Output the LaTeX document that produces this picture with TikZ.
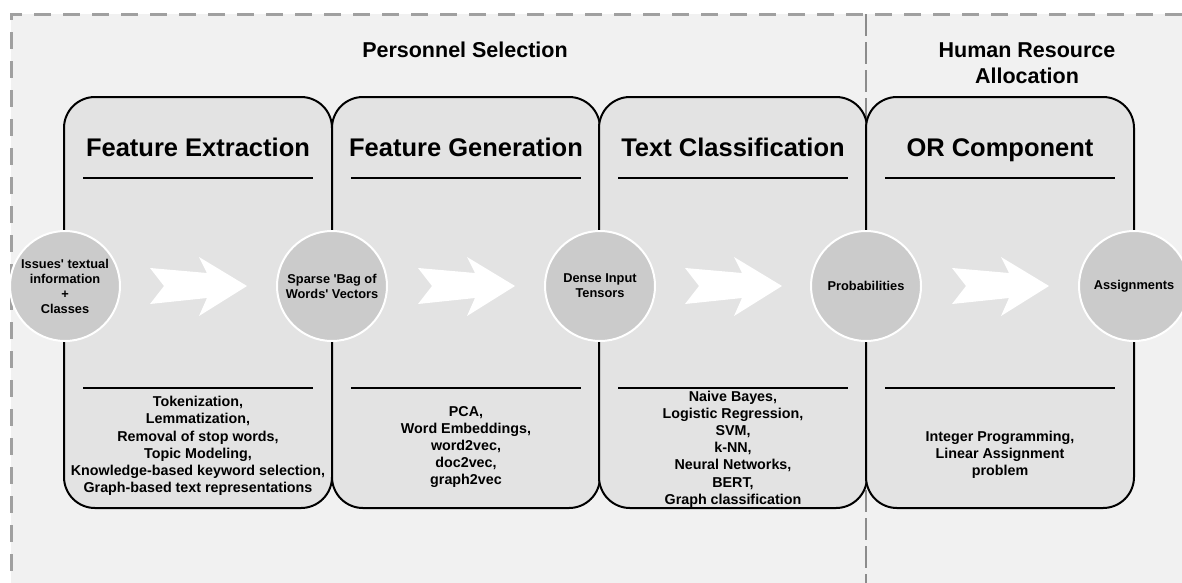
\documentclass[tikz,border=0pt]{standalone}
\usepackage{fontspec}
\setmainfont{Liberation Sans}
\usetikzlibrary{positioning}
\definecolor{fundo}{RGB}{241,241,241}
\definecolor{cinzafase}{RGB}{227,227,227}
\definecolor{cinzabolha}{RGB}{203,203,203}
\definecolor{tracejado}{RGB}{160,160,160}
\definecolor{divisor}{RGB}{140,140,140}
\tikzset{
  flecha/.pic={
    \fill[white] (-48,-18) -- (9,-13) -- (1,-29) -- (49,0) -- (1,30)
      -- (9,12) -- (-48,18) -- (-34,0) -- cycle;
  }
}
\begin{document}
\begin{tikzpicture}[
    x=1pt, y=-1pt,
    fase/.style={
        draw,
        line width=2pt,
        fill=cinzafase,
        rounded corners=31pt,
        minimum width=268pt,
        minimum height=411pt,
        inner sep=0pt
    },
    titulo/.style={
        font=\fontsize{25.5}{30}\selectfont\bfseries,
        text height=18pt,
        text depth=5pt
    },
    grupo/.style={
        align=center,
        font=\fontsize{21.5}{26}\selectfont\bfseries
    },
    bolha/.style={
        circle,
        draw=white,
        line width=2pt,
        fill=cinzabolha,
        minimum size=110pt,
        inner sep=0pt,
        align=center,
        font=\fontsize{12.8}{15}\selectfont\bfseries
    },
    lista/.style={
        align=center,
        font=\fontsize{14.3}{17.2}\selectfont\bfseries
    },
    regua/.style={
        line width=2pt
    }
]

\useasboundingbox (0,0) rectangle (1182,582);
\clip (0,0) rectangle (1182,582);

% fundo e moldura tracejada
\fill[fundo] (11,14) rectangle (1200,600);
\draw[tracejado, line width=3pt, dash pattern=on 17pt off 12pt]
    (11,600) -- (11,14) -- (1200,14);
\draw[divisor, line width=1.8pt, dash pattern=on 22pt off 6pt]
    (866,14) -- (866,600);

\node[grupo] (selecao) at (465,50) {Personnel Selection};
\node[grupo] (alocacao) at (1027,63) {Human Resource\\Allocation};

% fases
\node[fase] (fext) at (198,302.5) {};
\node[fase] (fgen) at (466,302.5) {};
\node[fase] (tcls) at (733,302.5) {};
\node[fase] (orcomp) at (1000,302.5) {};

\node[titulo] at (198,149.5) {Feature Extraction};
\node[titulo] at (466,149.5) {Feature Generation};
\node[titulo] at (733,149.5) {Text Classification};
\node[titulo] at (1000,149.5) {OR Component};

\draw[regua] (83,178) -- (313,178);
\draw[regua] (351,178) -- (581,178);
\draw[regua] (618,178) -- (848,178);
\draw[regua] (885,178) -- (1115,178);
\draw[regua] (83,388) -- (313,388);
\draw[regua] (351,388) -- (581,388);
\draw[regua] (618,388) -- (848,388);
\draw[regua] (885,388) -- (1115,388);

\node[lista] (tecext) at (198,446)
{
    Tokenization,\\
    Lemmatization,\\
    Removal of stop words,\\
    Topic Modeling,\\
    Knowledge-based keyword selection,\\
    Graph-based text representations
};

\node[lista] (tecgen) at (466,447)
{
    PCA,\\
    Word Embeddings,\\
    word2vec,\\
    doc2vec,\\
    graph2vec
};

\node[lista] (teccls) at (733,449)
{
    Naive Bayes,\\
    Logistic Regression,\\
    SVM,\\
    k-NN,\\
    Neural Networks,\\
    BERT,\\
    Graph classification
};

\node[lista] (tecor) at (1000,455)
{
    Integer Programming,\\
    Linear Assignment\\
    problem
};

% estados intermediarios
\node[bolha] (issues) at (65,286)
{Issues\textquotesingle{} textual\\information\\+\\Classes};
\node[bolha] (sparse) at (332,286)
{Sparse \textquotesingle Bag of\\Words\textquotesingle{} Vectors};
\node[bolha] (dense) at (600,286) {Dense Input\\Tensors};
\node[bolha] (probs) at (866,286) {Probabilities};
\node[bolha] (assign) at (1134,286) {Assignments};

\pic at (198,286) {flecha};
\pic at (466,286) {flecha};
\pic at (733,286) {flecha};
\pic at (1000,286) {flecha};

\end{tikzpicture}
\end{document}
